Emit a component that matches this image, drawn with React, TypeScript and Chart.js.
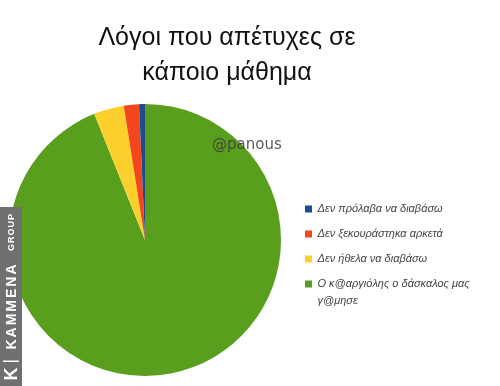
import React, { useEffect, useRef } from 'react';
import { Chart, registerables } from 'chart.js';

Chart.register(...registerables);

const titleLines = ['Λόγοι που απέτυχες σε', 'κάποιο μάθημα'];
const categories: (string | string[])[] = [
  'Δεν πρόλαβα να διαβάσω',
  'Δεν ξεκουράστηκα αρκετά',
  'Δεν ήθελα να διαβάσω',
  ['Ο κ@αργιόλης ο δάσκαλος μας', 'γ@μησε'],
];
const values = [0.7, 1.8, 3.6, 93.9];
const colors = ['#1c4c8c', '#f4461c', '#fcd02c', '#5a9e1e'];
const watermark = '@panous';
const logoWord = 'KAMMENA';
const logoSub = 'Group';

// layout constants
const PIE = { left: 9, top: 104, size: 272 };
const TITLE = { left: 0, right: 454, top: 21 };
const LEGEND = { left: 291, top: 189.5 };

const layoutPlugin = {
  id: 'layoutPlugin',
  afterLayout(chart: any) {
    chart.chartArea = {
      left: PIE.left,
      top: PIE.top,
      right: PIE.left + PIE.size,
      bottom: PIE.top + PIE.size,
      width: PIE.size,
      height: PIE.size,
    };
    const t = chart.titleBlock;
    if (t) {
      const h = t.height;
      t.left = TITLE.left;
      t.right = TITLE.right;
      t.width = TITLE.right - TITLE.left;
      t.top = TITLE.top;
      t.bottom = TITLE.top + h;
    }
    const lg = chart.legend;
    if (lg) {
      lg.left = LEGEND.left;
      lg.right = chart.width;
      lg.width = chart.width - LEGEND.left;
      lg.top = LEGEND.top;
      lg.bottom = chart.height;
      lg.height = chart.height - LEGEND.top;
    }
  },
  afterDraw(chart: any) {
    const ctx = chart.ctx as CanvasRenderingContext2D;
    ctx.save();
    // watermark
    ctx.fillStyle = 'rgba(60,60,60,0.85)';
    ctx.font = '15px "DejaVu Sans"';
    ctx.textBaseline = 'middle';
    ctx.textAlign = 'left';
    ctx.fillText(watermark, 212, 145);
    // side logo
    ctx.fillStyle = '#707070';
    ctx.fillRect(0, 207, 22, chart.height - 207);
    ctx.translate(11, 0);
    ctx.rotate(-Math.PI / 2);
    ctx.fillStyle = '#ffffff';
    ctx.textBaseline = 'middle';
    ctx.textAlign = 'center';
    ctx.font = 'bold 18px "Liberation Sans"';
    ctx.fillText('K', -374, 1);
    ctx.fillRect(-362, -8, 1.5, 16);
    ctx.font = 'bold 14px "Liberation Sans"';
    (ctx as any).letterSpacing = '2px';
    ctx.fillText(logoWord, -306, 1);
    (ctx as any).letterSpacing = '1px';
    ctx.font = 'bold 9px "Liberation Sans"';
    ctx.fillText(logoSub.toUpperCase(), -232, 1);
    ctx.restore();
  },
};

export default function App() {
  const ref = useRef<HTMLCanvasElement | null>(null);
  useEffect(() => {
    if (!ref.current) return;
    const chart = new Chart(ref.current, {
      type: 'pie',
      data: {
        labels: [...categories].reverse(),
        datasets: [
          {
            data: [...values].reverse(),
            backgroundColor: [...colors].reverse(),
            borderWidth: 0,
            clip: false as any,
          },
        ],
      },
      options: {
        responsive: false,
        animation: false,
        devicePixelRatio: 1,
        plugins: {
          title: {
            display: true,
            text: titleLines,
            color: '#111',
            font: { family: '"Liberation Sans"', size: 25, weight: 'normal', lineHeight: 1.4 },
            padding: 0,
          },
          legend: {
            display: true,
            position: 'right',
            align: 'start',
            reverse: true,
            labels: {
              boxWidth: 7,
              boxHeight: 7,
              padding: 14,
              color: '#444',
              font: { family: '"Liberation Sans"', size: 11, style: 'italic', lineHeight: 1.55 },
            },
          },
          tooltip: { enabled: false },
        },
      },
      plugins: [layoutPlugin],
    });
    return () => chart.destroy();
  }, []);
  return (
    <div style={{ position: 'absolute', left: 0, top: 0, width: 500, height: 386, background: '#fff' }}>
      <canvas ref={ref} width={500} height={386} />
    </div>
  );
}
